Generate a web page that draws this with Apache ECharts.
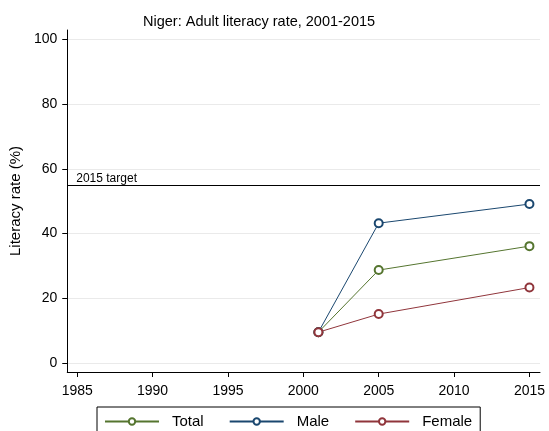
<!DOCTYPE html>
<html>
<head>
<meta charset="utf-8">
<script src="https://cdn.jsdelivr.net/npm/echarts@6/dist/echarts.min.js"></script>
<style>
  html, body { margin: 0; padding: 0; background: #fff; }
  #chart { width: 549px; height: 431px; }
</style>
</head>
<body>
<div id="chart"></div>
<script>
// literacy rate by year
var years = [2001, 2005, 2015];
var total = [9.5, 28.7, 36.1];
var male = [9.5, 43.2, 49.1];
var female = [9.5, 15.1, 23.3];
var target = 54.8;
var xTicks = [1985, 1990, 1995, 2000, 2005, 2010, 2015];
var yTicks = [0, 20, 40, 60, 80, 100];

var font = 'Liberation Sans, Arial, sans-serif';

function pairs(vals) {
    return years.map(function (y, i) { return [y, vals[i]]; });
}

function line(name, vals, color) {
    return {
        name: name, type: 'line', data: pairs(vals),
        symbol: 'emptyCircle', symbolSize: 8,
        lineStyle: {color: color, width: 1},
        itemStyle: {color: color, borderColor: color, borderWidth: 0.9},
        emphasis: {disabled: true}
    };
}

var chart = echarts.init(document.getElementById('chart'));
var series = [
    line('Total', total, '#55752f'),
    line('Male', male, '#1a476f'),
    line('Female', female, '#90353b')
];
series[0].markLine = {
    symbol: 'none', silent: true,
    lineStyle: {color: '#000', width: 1, type: 'solid'},
    label: {position: 'insideStartTop', formatter: '2015 target', color: '#000',
        fontSize: 12, fontFamily: font, distance: [9, 1]},
    data: [{yAxis: target}]
};

chart.setOption({
    animation: false,
    title: {
        text: 'Niger: Adult literacy rate, 2001-2015',
        left: 138, top: 9,
        textStyle: {fontSize: 14.5, fontWeight: 'normal', color: '#000', fontFamily: font}
    },
    grid: {left: 67, right: 9, top: 30, bottom: 59, containLabel: false},
    legend: {
        left: 97, top: 407,
        padding: [7, 8, 20, 7],
        borderColor: '#000', borderWidth: 1,
        itemWidth: 54, itemHeight: 8, itemGap: 25,
        textStyle: {fontSize: 15, color: '#000', fontFamily: font, padding: [0, 0, 0, 8]},
        data: ['Total', 'Male', 'Female']
    },
    xAxis: {
        type: 'value', min: 1984.34, max: 2015.7,
        axisLine: {onZero: false, lineStyle: {color: '#000', width: 1}},
        axisTick: {show: true, length: 5, lineStyle: {color: '#000'}, customValues: xTicks},
        axisLabel: {fontSize: 14, color: '#000', fontFamily: font, margin: 12, customValues: xTicks,
            formatter: function (v) { return String(v); }},
        splitLine: {show: false}
    },
    yAxis: {
        type: 'value', min: -2.8, max: 102.9,
        name: 'Literacy rate (%)', nameLocation: 'middle', nameGap: 42,
        nameTextStyle: {fontSize: 15, color: '#000', fontFamily: font},
        axisLine: {show: true, onZero: false, lineStyle: {color: '#000', width: 1}},
        axisTick: {show: true, length: 5, lineStyle: {color: '#000'}, customValues: yTicks},
        axisLabel: {fontSize: 14, color: '#000', fontFamily: font, margin: 10, customValues: yTicks},
        splitLine: {show: true, lineStyle: {color: '#eaeaea', width: 1}}
    },
    series: series
});
</script>
</body>
</html>
